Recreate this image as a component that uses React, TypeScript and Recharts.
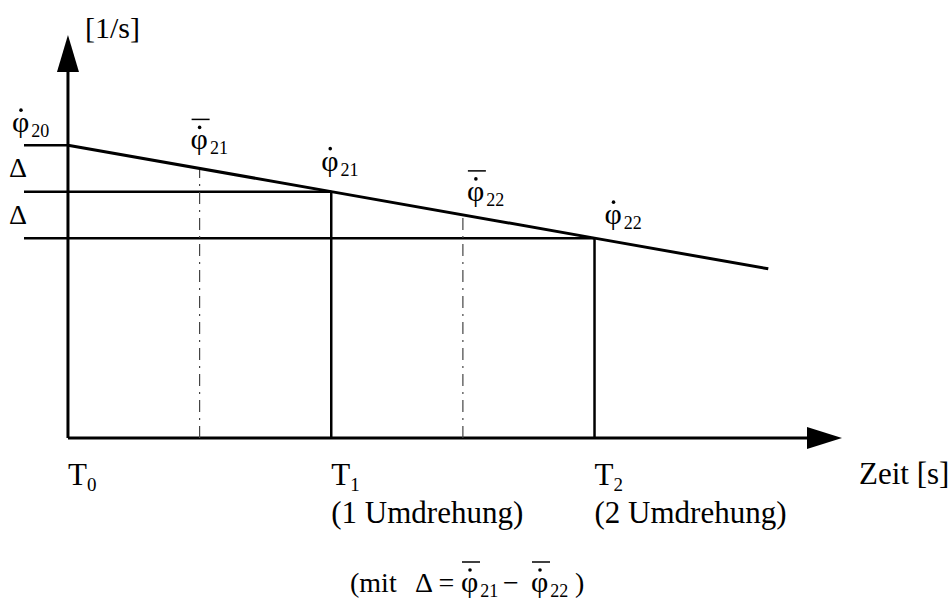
import React from 'react';
import {
  ComposedChart,
  Line,
  XAxis,
  YAxis,
  ReferenceLine,
  ReferenceDot,
} from 'recharts';

const FONT = '"Liberation Serif", "Times New Roman", serif';

// Winkelgeschwindigkeit über der Zeit (Zeit in Umdrehungen T)
const LINE_T = [0, 1, 2, 2.66];
const LINE_W = [6.3, 5.3, 4.3, 3.64];

// Zeitpunkte T0, T1, T2 und ihre Beschriftung
const T_TICKS = [0, 1, 2];
const T_SUBS = ['0', '1', '2'];
const TURN_LABELS = ['', '(1 Umdrehung)', '(2 Umdrehung)'];

// Momentanwerte bei T0, T1, T2
const LEVELS = [6.3, 5.3, 4.3];
const LEVEL_SUBS = ['20', '21', '22'];

// Mittelwerte je Umdrehung
const MEAN_T = [0.5, 1.5];
const MEAN_W = [5.8, 4.8];
const MEAN_SUBS = ['21', '22'];

const X_MIN = -0.167;
const X_MAX = 2.94;
const Y_MAX = 8.67;

// Versatz der Formelzeichen zum zugehörigen Punkt
const LEVEL_LABEL_OFFSET = [
  [-56, -13],
  [-10, -21],
  [10, -14],
];
const MEAN_LABEL_OFFSET = [
  [-9, -19],
  [4, -14],
];

const data = LINE_T.map((t, i) => ({ t, w: LINE_W[i] }));

type PhiProps = { x: number; y: number; sub: string; bar?: boolean };

// φ mit Punkt (und optional Querstrich) plus Index
function Phi({ x, y, sub, bar }: PhiProps) {
  return (
    <g>
      {bar && (
        <line x1={x + 1} x2={x + 19} y1={y - 30} y2={y - 30} stroke="#000" strokeWidth={1.5} />
      )}
      <circle cx={x + 9} cy={y - 22} r={1.8} fill="#000" />
      <text x={x} y={y} fontFamily={FONT} fontSize={30} fill="#000">
        φ
        <tspan fontSize={18} dx={2} dy={5}>
          {sub}
        </tspan>
      </text>
    </g>
  );
}

// T-Beschriftung, bei T1/T2 zweizeilig mit Umdrehungszahl
const TimeTick = (props: any) => {
  const { x, y, payload } = props;
  const i = T_TICKS.indexOf(payload.value);
  return (
    <text x={x} y={y + 47} fontFamily={FONT} fontSize={31} fill="#000">
      T
      <tspan fontSize={19} dy={6}>
        {T_SUBS[i]}
      </tspan>
      {TURN_LABELS[i] && (
        <tspan x={x} dy={32}>
          {TURN_LABELS[i]}
        </tspan>
      )}
    </text>
  );
};

const AxisCaption = (props: any) => {
  const { viewBox } = props;
  const fx = 350;
  const fy = 592;
  return (
    <g fontFamily={FONT} fill="#000">
      <text x={viewBox.x + viewBox.width + 17} y={viewBox.y + 46} fontSize={31}>
        Zeit [s]
      </text>
      <text x={fx} y={fy} fontSize={28}>
        (mit
      </text>
      <text x={fx + 65} y={fy} fontSize={28}>
        Δ =
      </text>
      <Phi x={fx + 111} y={fy} sub={MEAN_SUBS[0]} bar />
      <text x={fx + 153} y={fy} fontSize={28}>
        −
      </text>
      <Phi x={fx + 181} y={fy} sub={MEAN_SUBS[1]} bar />
      <text x={fx + 225} y={fy} fontSize={28}>
        )
      </text>
    </g>
  );
};

export default function App() {
  return (
    <div style={{ position: 'absolute', left: 0, top: 0, background: '#fff' }}>
      <ComposedChart
        width={951}
        height={608}
        data={data}
        margin={{ top: 35, right: 109, bottom: 90, left: 24 }}
      >
        <XAxis
          dataKey="t"
          type="number"
          domain={[X_MIN, X_MAX]}
          allowDataOverflow
          ticks={T_TICKS}
          tick={TimeTick}
          tickLine={false}
          axisLine={false}
          tickSize={0}
          tickMargin={0}
          height={80}
          interval={0}
          label={{ content: (p: any) => <AxisCaption {...p} /> }}
        />
        <YAxis type="number" domain={[0, Y_MAX]} allowDataOverflow hide />

        {/* Achsen */}
        <ReferenceLine
          segment={[{ x: 0, y: 0 }, { x: 0, y: Y_MAX - 0.5 }]}
          stroke="#000"
          strokeWidth={3}
        />
        <ReferenceLine
          segment={[{ x: 0, y: 0 }, { x: X_MAX - 0.05, y: 0 }]}
          stroke="#000"
          strokeWidth={3}
        />
        <ReferenceDot
          x={0}
          y={Y_MAX}
          r={1}
          shape={(p: any) => (
            <g>
              <polygon
                points={`${p.cx},${p.cy} ${p.cx - 11},${p.cy + 37} ${p.cx + 11},${p.cy + 37}`}
                fill="#000"
              />
              <text x={p.cx + 17} y={p.cy + 3} fontFamily={FONT} fontSize={30} fill="#000">
                [1/s]
              </text>
            </g>
          )}
        />
        <ReferenceDot
          x={X_MAX}
          y={0}
          r={1}
          shape={(p: any) => (
            <polygon
              points={`${p.cx},${p.cy} ${p.cx - 35},${p.cy - 11} ${p.cx - 35},${p.cy + 11}`}
              fill="#000"
            />
          )}
        />

        {/* Niveaus der Momentanwerte */}
        {LEVELS.map((w, i) => (
          <ReferenceLine
            key={`h${i}`}
            segment={[{ x: X_MIN, y: w }, { x: T_TICKS[i], y: w }]}
            stroke="#000"
            strokeWidth={2.5}
          />
        ))}
        {LEVELS.slice(1).map((w, i) => (
          <ReferenceLine
            key={`v${i}`}
            segment={[{ x: T_TICKS[i + 1], y: 0 }, { x: T_TICKS[i + 1], y: w }]}
            stroke="#000"
            strokeWidth={2.5}
          />
        ))}
        {MEAN_T.map((t, i) => (
          <ReferenceLine
            key={`m${i}`}
            segment={[{ x: t, y: 0 }, { x: t, y: MEAN_W[i] }]}
            stroke="#444"
            strokeWidth={1.2}
            strokeDasharray="12 6 2 6"
          />
        ))}

        <Line
          dataKey="w"
          type="linear"
          stroke="#000"
          strokeWidth={3}
          dot={false}
          isAnimationActive={false}
        />

        {/* Δ zwischen den Niveaus */}
        {LEVELS.slice(1).map((w, i) => (
          <ReferenceDot
            key={`d${i}`}
            x={X_MIN}
            y={(LEVELS[i] + w) / 2}
            r={1}
            shape={(p: any) => (
              <text x={p.cx - 15} y={p.cy + 9} fontFamily={FONT} fontSize={28} fill="#000">
                Δ
              </text>
            )}
          />
        ))}

        {/* Formelzeichen */}
        {LEVELS.map((w, i) => (
          <ReferenceDot
            key={`l${i}`}
            x={T_TICKS[i]}
            y={w}
            r={1}
            shape={(p: any) => (
              <Phi
                x={p.cx + LEVEL_LABEL_OFFSET[i][0]}
                y={p.cy + LEVEL_LABEL_OFFSET[i][1]}
                sub={LEVEL_SUBS[i]}
              />
            )}
          />
        ))}
        {MEAN_T.map((t, i) => (
          <ReferenceDot
            key={`ml${i}`}
            x={t}
            y={MEAN_W[i]}
            r={1}
            shape={(p: any) => (
              <Phi
                x={p.cx + MEAN_LABEL_OFFSET[i][0]}
                y={p.cy + MEAN_LABEL_OFFSET[i][1]}
                sub={MEAN_SUBS[i]}
                bar
              />
            )}
          />
        ))}
      </ComposedChart>
    </div>
  );
}
